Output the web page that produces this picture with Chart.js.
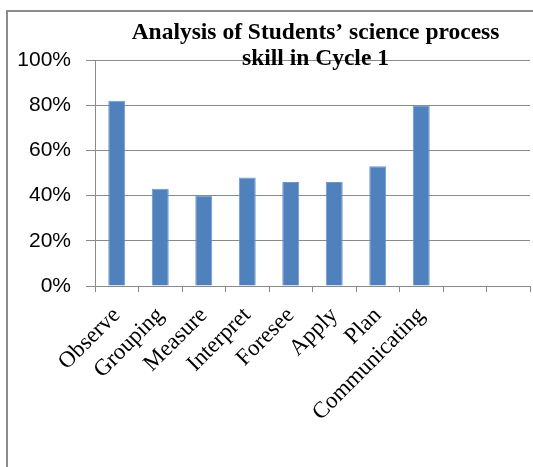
<!DOCTYPE html>
<html>
<head>
<meta charset="utf-8">
<script src="https://cdn.jsdelivr.net/npm/chart.js@4"></script>
<style>
  html, body { margin: 0; padding: 0; background: #ffffff; overflow: hidden; }
  #wrap { position: relative; width: 533px; height: 467px; }
  #frame {
    position: absolute; left: 6px; top: 10px; width: 700px; height: 700px;
    border: 2px solid #8c8c8c; box-sizing: border-box; pointer-events: none;
  }
  canvas { position: absolute; left: 0; top: 0; }
</style>
</head>
<body>
<div id="wrap">
  <div id="frame"></div>
  <canvas id="chart" width="533" height="467"></canvas>
</div>
<script>
// Science process skills assessed in Cycle 1 (two trailing empty slots on the axis)
const skills = ['Observe', 'Grouping', 'Measure', 'Interpret', 'Foresee', 'Apply', 'Plan', 'Communicating', '', ''];
// Percentage of students showing each skill
const scores = [82, 43, 40, 48, 46, 46, 53, 80, null, null];
// Value axis ticks
const yTicks = [0, 20, 40, 60, 80, 100];
// Chart heading, one entry per line
const titleLines = ['Analysis of Students\u2019 science process', 'skill in Cycle 1'];

const gridGrey = '#8a8a8a';

// Draws the two-line heading centred over the plot, overlapping its top
const headingPlugin = {
  id: 'heading',
  afterDraw(chart) {
    const ctx = chart.ctx;
    const area = chart.chartArea;
    const cx = (area.left + area.right) / 2 + 3;
    ctx.save();
    ctx.fillStyle = '#000000';
    ctx.font = 'bold 23.5px "Liberation Serif", "Times New Roman", serif';
    ctx.textAlign = 'center';
    ctx.textBaseline = 'alphabetic';
    titleLines.forEach((line, i) => {
      ctx.fillText(line, cx, 39 + i * 26);
    });
    ctx.restore();
  }
};

new Chart(document.getElementById('chart'), {
  type: 'bar',
  data: {
    labels: skills,
    datasets: [{
      data: scores,
      backgroundColor: '#4f81bd',
      borderColor: '#6d97c9',
      borderWidth: 1,
      barPercentage: 0.39,
      categoryPercentage: 1.0
    }]
  },
  options: {
    responsive: false,
    animation: false,
    devicePixelRatio: 1,
    layout: { padding: { left: 10, right: 3, top: 60, bottom: 0 } },
    plugins: {
      legend: { display: false },
      title: { display: false },
      tooltip: { enabled: false }
    },
    scales: {
      x: {
        offset: true,
        grid: {
          offset: true,
          drawOnChartArea: false,
          drawTicks: true,
          tickLength: 6,
          color: gridGrey,
          lineWidth: 1
        },
        border: { color: gridGrey, width: 1 },
        ticks: {
          autoSkip: false,
          maxRotation: 45,
          minRotation: 45,
          padding: 10,
          color: '#000000',
          font: { family: '"Liberation Serif", "Times New Roman", serif', size: 23 }
        },
        afterFit(scale) {
          scale.height = 181;
          scale.paddingLeft = 0;
          scale.paddingRight = 0;
        }
      },
      y: {
        min: 0,
        max: 100,
        afterBuildTicks(scale) {
          scale.ticks = yTicks.map(v => ({ value: v }));
        },
        grid: {
          color: gridGrey,
          lineWidth: 1,
          drawTicks: true,
          tickLength: 9
        },
        border: { color: gridGrey, width: 1 },
        ticks: {
          padding: 15,
          color: '#000000',
          font: { family: '"Liberation Sans", Arial, sans-serif', size: 21 },
          callback: v => v + '%'
        },
        afterFit(scale) { scale.width = 85; }
      }
    }
  },
  plugins: [headingPlugin]
});
</script>
</body>
</html>
